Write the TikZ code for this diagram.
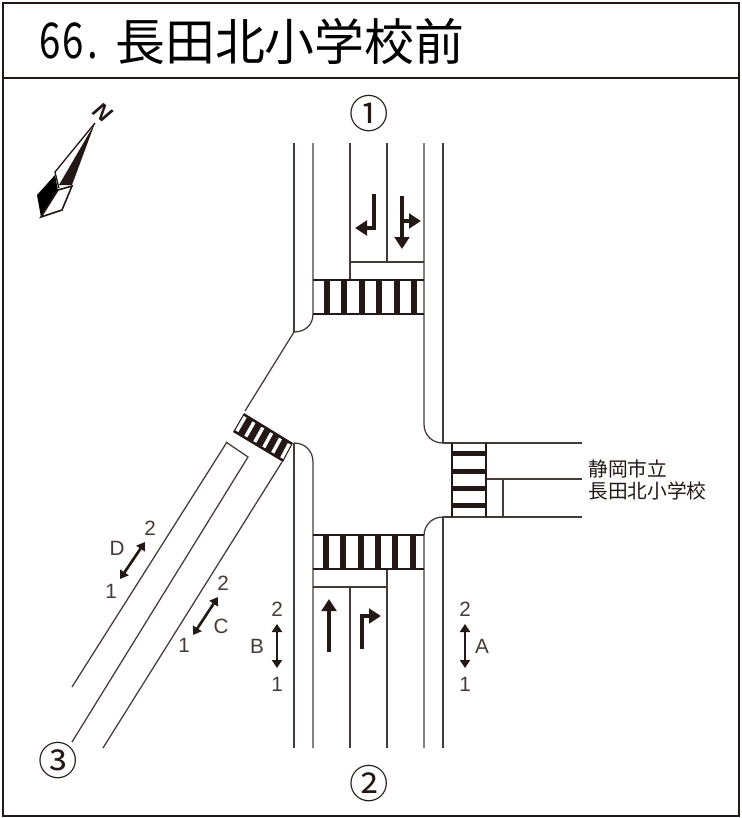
\documentclass[tikz,border=0pt]{standalone}
\usepackage{fontspec}
\setmainfont{Liberation Sans}
\newfontfamily\jpfont{Noto Sans CJK JP}
\newfontfamily\numfont[FakeStretch=0.78]{Noto Sans CJK JP}
\usepackage{xcolor}
\usetikzlibrary{arrows.meta}
\usetikzlibrary{calc}
\definecolor{encre}{HTML}{231815}
\tikzset{
    rue/.style={line width=.95pt, encre!85},
    fort/.style={line width=1.6pt, encre},
    sens/.style={line width=2.4pt, encre, -{Triangle[length=9pt,width=11pt]}},
    double/.style={line width=2pt, encre, {Triangle[length=6pt,width=7.5pt]}-{Triangle[length=6pt,width=7.5pt]}},
    etiq/.style={inner sep=0pt, font=\fontsize{15.5}{15.5}\selectfont, text=encre!85},
    rond/.style={inner sep=0pt, font=\jpfont\fontsize{29.5}{30}\selectfont, text=encre}
}
\begin{document}
\begin{tikzpicture}[x=.75pt,y=-.75pt]
\useasboundingbox (0,0) rectangle (742,818);
% cadre
\draw[line width=2.2pt, encre] (3,3) rectangle (739,816);
\draw[line width=2pt, encre] (3,78)--(739,78);
\node[anchor=west, inner sep=0pt, font=\numfont\fontsize{37}{37}\selectfont] (numero) at (39,41) {6\kern1.5pt 6\kern3pt .};
\node[anchor=west, inner sep=0pt, font=\jpfont\fontsize{37.4}{38}\selectfont] (titre) at (115,41) {長田北小学校前};
% nord
\fill[encre] (95,123)--(59,185)--(72,185)--cycle;
\draw[fort, line width=1pt, line join=miter] (95,123)--(55,172)--(59,188);
\fill[black] (55,175)--(37,195)--(41,217)--(58,190)--cycle;
\draw[line width=1.2pt, encre] (41,217)--(58,190)--(72,186)--(62,210)--cycle;
\node[inner sep=0pt, rotate=-38, font=\bfseries\itshape\fontsize{17}{17}\selectfont, text=encre] (nord) at (103,112) {N};
% route du haut
\draw[rue] (294,143)--(294,332);
\draw[rue] (313,143)--(313,314) .. controls (313,325) and (305,332) .. (294,332);
\draw[rue] (350,143)--(350,280);
\draw[rue] (387,143)--(387,262);
\draw[rue] (350,262)--(424,262);
\draw[rue] (424,143)--(424,424) .. controls (424,435) and (432,443) .. (443,443);
\draw[rue] (443,143)--(443,443);
% route du bas
\draw[rue] (294,443)--(294,748);
\draw[rue] (294,443) .. controls (305,443) and (313,451) .. (313,462)--(313,748);
\draw[rue] (350,587)--(350,748);
\draw[rue] (387,569)--(387,748);
\draw[rue] (313,587)--(387,587);
\draw[rue] (443,517) .. controls (432,517) and (424,525) .. (424,536)--(424,748);
\draw[rue] (443,517)--(443,748);
% route de droite
\draw[rue] (443,443)--(582,443);
\draw[rue] (443,517)--(582,517);
\draw[rue] (486,479)--(582,479);
\draw[rue] (503,479)--(503,517);
% route en biais
\draw[rue] (294,332)--(245,411);
\draw[rue] (227,442)--(72,687);
\draw[rue] (226,442)--(248,457)--(72,742);
\draw[rue] (282,462)--(103,748);
% passages
\draw[fort] (313,280)--(424,280);
\draw[fort] (313,314)--(424,314);
\foreach \x in {327,344,362,379,397,414}
    \fill[encre] (\x-3,280) rectangle (\x+3,314);
\draw[fort] (313,535)--(424,535);
\draw[fort] (313,569)--(424,569);
\foreach \x in {326,343,361,378,395,413}
    \fill[encre] (\x-3,535) rectangle (\x+3,569);
\draw[fort] (452,443)--(452,517);
\draw[fort] (486,443)--(486,517);
\foreach \y in {453,471,488,505}
    \fill[encre] (452,\y-2.5) rectangle (486,\y+2.5);
\coordinate (pa) at (244,413);
\coordinate (pb) at (293,443);
\coordinate (pc) at (283,462);
\coordinate (pd) at (233,432);
\fill[encre] (pa)--(pb)--(pc)--(pd)--cycle;
\foreach \t in {.05,.23,.41,.59,.77,.95}
    \draw[white, line width=2.6pt, shorten >=2pt, shorten <=2pt] ($(pa)!\t!(pb)$)--($(pd)!\t!(pc)$);
% fleches
\draw[sens, line join=miter] (374,194)--(374,228)--(355,228);
\draw[sens] (402,196)--(402,249);
\draw[sens] (402,221)--(421,221);
\draw[sens] (329,652)--(329,599);
\draw[sens, line join=miter] (362,649)--(362,616)--(381,616);
\draw[double] (465,624)--(465,668);
\draw[double] (277,624)--(277,668);
\draw[double] (145,542)--(120,579);
\draw[double] (218,597)--(193,635);
% textes
\node[etiq] (a2) at (465,609) {2};
\node[etiq] (a1) at (465,684) {1};
\node[etiq] (a) at (482,646) {A};
\node[etiq] (b2) at (277,609) {2};
\node[etiq] (b1) at (277,684) {1};
\node[etiq] (b) at (257,646) {B};
\node[etiq] (c2) at (223,583) {2};
\node[etiq] (c1) at (184,645) {1};
\node[etiq] (c) at (221,626) {C};
\node[etiq] (d2) at (150,528) {2};
\node[etiq] (d1) at (111,591) {1};
\node[etiq] (d) at (117,548) {D};
\node[rond] (un) at (369,114) {①};
\node[rond] (deux) at (369,784) {②};
\node[rond] (trois) at (58,761) {③};
\node[anchor=west, inner sep=0pt, align=left, text=encre, font=\jpfont\fontsize{14.8}{17.2}\selectfont] (ecole) at (588,480) {静岡市立\\長田北小学校};
\end{tikzpicture}
\end{document}
